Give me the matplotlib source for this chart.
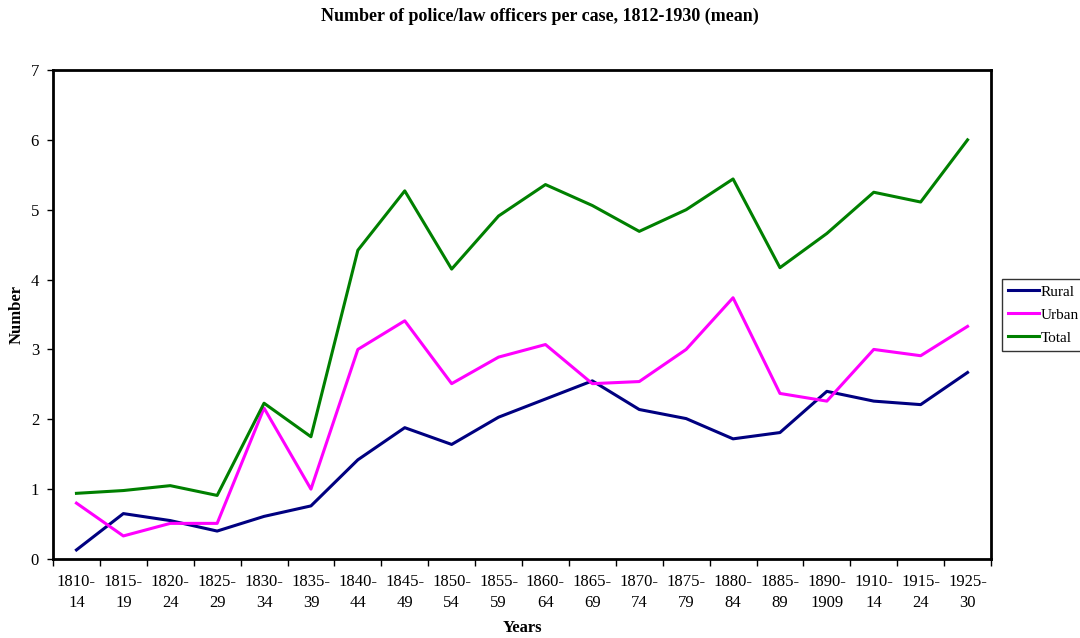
import matplotlib
matplotlib.use("Agg")
import matplotlib.pyplot as plt
import numpy as np

plt.rcParams['font.family'] = ['Liberation Serif', 'DejaVu Serif']

# periods and mean number of officers per case
periods = ["1810-\n14", "1815-\n19", "1820-\n24", "1825-\n29", "1830-\n34",
           "1835-\n39", "1840-\n44", "1845-\n49", "1850-\n54", "1855-\n59",
           "1860-\n64", "1865-\n69", "1870-\n74", "1875-\n79", "1880-\n84",
           "1885-\n89", "1890-\n1909", "1910-\n14", "1915-\n24", "1925-\n30"]
rural = [0.13, 0.65, 0.55, 0.40, 0.61, 0.76, 1.42, 1.88, 1.64, 2.03,
         2.29, 2.55, 2.14, 2.01, 1.72, 1.81, 2.40, 2.26, 2.21, 2.67]
urban = [0.80, 0.33, 0.51, 0.51, 2.16, 1.00, 3.00, 3.41, 2.51, 2.89,
         3.07, 2.51, 2.54, 3.00, 3.74, 2.37, 2.26, 3.00, 2.91, 3.33]
total = [0.94, 0.98, 1.05, 0.91, 2.23, 1.75, 4.42, 5.27, 4.15, 4.91,
         5.36, 5.06, 4.69, 5.00, 5.44, 4.17, 4.66, 5.25, 5.11, 6.00]

fig = plt.figure(figsize=(10.8, 6.38), dpi=100)
ax = fig.add_axes([53/1080, 1-559/638, (991-53)/1080, (559-70)/638])

x = np.arange(len(periods)) + 0.5
ax.plot(x, rural, color='#000080', lw=2.2, label='Rural')
ax.plot(x, urban, color='#FF00FF', lw=2.2, label='Urban')
ax.plot(x, total, color='#008000', lw=2.2, label='Total')

ax.set_xlim(0, len(periods))
ax.set_ylim(0, 7)
ax.set_yticks(range(0, 8))

# tick marks between categories, labels in the middle
ax.set_xticks(np.arange(len(periods) + 1))
ax.set_xticklabels([])
ax.set_xticks(x, minor=True)
ax.set_xticklabels(periods, minor=True, fontsize=12, linespacing=1.4)
ax.tick_params(axis='x', which='major', direction='out', length=5, width=1)
ax.tick_params(axis='x', which='minor', length=0, pad=11)
ax.tick_params(axis='y', direction='out', length=4, width=1, labelsize=12, pad=6)

for s in ax.spines.values():
    s.set_linewidth(2)

fig.text(540/1080, 1-16/638, "Number of police/law officers per case, 1812-1930 (mean)",
         ha='center', va='center', fontsize=13, fontweight='bold')
fig.text(522/1080, 1-628/638, "Years", ha='center', va='center',
         fontsize=12, fontweight='bold')
fig.text(17/1080, 1-314/638, "Number", ha='center', va='center',
         rotation=90, fontsize=12, fontweight='bold')

leg = fig.legend(loc='upper left', bbox_to_anchor=(1002/1080, 1-279/638),
                 borderaxespad=0, fontsize=11, fancybox=False, frameon=True,
                 edgecolor='black', handlelength=2.0, handletextpad=0.15,
                 labelspacing=0.6, borderpad=0.4)
leg.get_frame().set_linewidth(1)

fig.savefig("out.png", dpi=100)
